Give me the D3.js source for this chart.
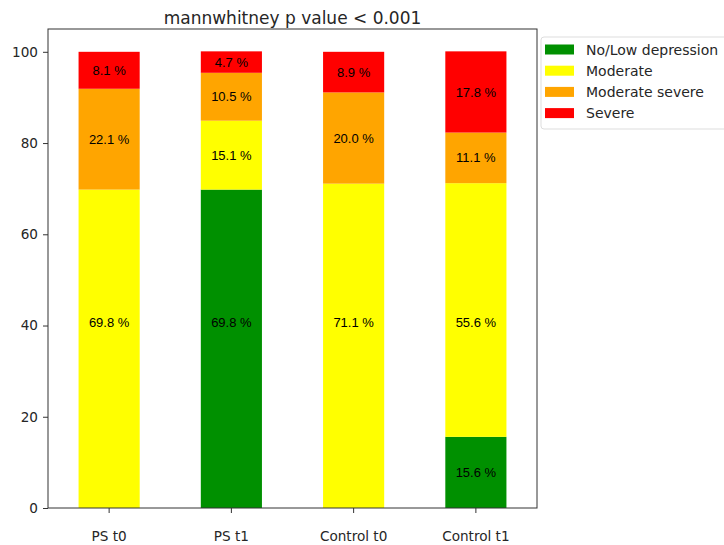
<!DOCTYPE html>
<html>
<head>
<meta charset="utf-8">
<script src="https://cdn.jsdelivr.net/npm/d3@7"></script>
<style>
body { margin: 0; background: #fff; }
</style>
</head>
<body>
<script>
// data
var groups = ["PS t0", "PS t1", "Control t0", "Control t1"];
var categories = ["No/Low depression", "Moderate", "Moderate severe", "Severe"];
var noLow = [0, 69.8, 0, 15.6];
var moderate = [69.8, 15.1, 71.1, 55.6];
var modSevere = [22.1, 10.5, 20.0, 11.1];
var severe = [8.1, 4.7, 8.9, 17.8];
var colors = ["#009000", "#ffff00", "#ffa500", "#ff0000"];
var yTicks = [0, 20, 40, 60, 80, 100];
// big segments (> 50 %) had their label put at this value in the original
var tallLabelAt = 40.6;

var W = 724, H = 545;
// plot box edges (avoid window.top)
var plotL = 48, plotR = 537, plotT = 29, plotB = 508;

var svg = d3.select("body").append("svg")
    .attr("width", W)
    .attr("height", H);

var x = d3.scaleBand().domain(groups).range([plotL, plotR])
    .paddingInner(0.5).paddingOuter(0.25);
var y = d3.scaleLinear().domain([0, 105]).range([plotB, plotT]);

// build stack rows
var rows = groups.map(function(g, i) {
    return { group: g, "No/Low depression": noLow[i], "Moderate": moderate[i],
             "Moderate severe": modSevere[i], "Severe": severe[i] };
});
var stacked = d3.stack().keys(categories)(rows);

var layer = svg.selectAll("g.layer")
    .data(stacked).enter()
    .append("g")
    .attr("class", "layer")
    .attr("fill", function(d, i){ return colors[i]; });

layer.selectAll("rect")
    .data(function(d){ return d; })
    .enter().append("rect")
    .attr("x", function(d){ return x(d.data.group); })
    .attr("width", x.bandwidth())
    .attr("y", function(d){ return y(d[1]); })
    .attr("height", function(d){ return y(d[0]) - y(d[1]); });

// segment labels
layer.selectAll("text")
    .data(function(d){ return d.filter(function(s){ return s[1] - s[0] > 0; }); })
    .enter().append("text")
    .attr("x", function(d){ return x(d.data.group) + x.bandwidth() / 2; })
    .attr("y", function(d){
        var h = d[1] - d[0];
        return h > 50 ? y(tallLabelAt) : y((d[0] + d[1]) / 2); })
    .attr("dy", "0.35em")
    .attr("text-anchor", "middle")
    .attr("font-family", "Liberation Sans, Arial, sans-serif")
    .attr("font-size", "13px")
    .attr("fill", "#000")
    .text(function(d){ return (d[1] - d[0]).toFixed(1) + " %"; });

// axes
var yAxis = svg.append("g")
    .attr("transform", "translate(" + plotL + ",0)")
    .call(d3.axisLeft(y).tickValues(yTicks).tickSize(5).tickPadding(5));
var xAxis = svg.append("g")
    .attr("transform", "translate(0," + plotB + ")")
    .call(d3.axisBottom(x).tickSize(5).tickPadding(18));

[yAxis, xAxis].forEach(function(a){
    a.select(".domain").remove();
    a.selectAll("line").attr("stroke", "#333");
    a.selectAll("text")
        .attr("font-family", "DejaVu Sans, sans-serif")
        .attr("font-size", "13.6px")
        .attr("fill", "#262626");
});

// frame
svg.append("rect")
    .attr("x", plotL)
    .attr("y", plotT)
    .attr("width", plotR - plotL)
    .attr("height", plotB - plotT)
    .attr("fill", "none")
    .attr("stroke", "#333")
    .attr("stroke-width", 1);

// title
svg.append("text")
    .attr("x", (plotL + plotR) / 2)
    .attr("y", 24)
    .attr("text-anchor", "middle")
    .attr("font-family", "DejaVu Sans, sans-serif")
    .attr("font-size", "17px")
    .attr("fill", "#262626")
    .text("mannwhitney p value < 0.001");

// legend
var lg = svg.append("g").attr("transform", "translate(541,37)");
lg.append("rect")
    .attr("x", 0).attr("y", 0)
    .attr("width", 190).attr("height", 92)
    .attr("rx", 3)
    .attr("fill", "#fff")
    .attr("stroke", "#ddd");
categories.forEach(function(c, i){
    lg.append("rect")
        .attr("x", 4).attr("y", 7.5 + 21.2 * i)
        .attr("width", 29).attr("height", 10)
        .attr("fill", colors[i]);
    lg.append("text")
        .attr("x", 45).attr("y", 12.7 + 21.2 * i)
        .attr("dy", "0.35em")
        .attr("font-family", "DejaVu Sans, sans-serif")
        .attr("font-size", "14px")
        .attr("fill", "#262626")
        .text(c);
});
</script>
</body>
</html>
